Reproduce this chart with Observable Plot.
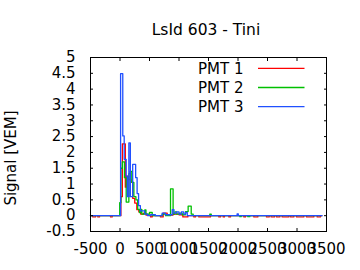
<!DOCTYPE html>
<html><head><meta charset="utf-8">
<script src="https://cdn.jsdelivr.net/npm/d3@7"></script>
<script src="https://cdn.jsdelivr.net/npm/@observablehq/plot@0.6"></script>
<style>body{margin:0;background:#fff} svg{display:block}</style>
</head><body><div id="chart"></div>
<script>
const title = "LsId 603 - Tini";
const yLabel = "Signal [VEM]";
const seriesNames = ["PMT 1", "PMT 2", "PMT 3"];
const seriesColors = ["#ff0000", "#00c000", "#2050ff"];
const xTicks = [-500, 0, 500, 1000, 1500, 2000, 2500, 3000, 3500];
const yTicks = [-0.5, 0, 0.5, 1, 1.5, 2, 2.5, 3, 3.5, 4, 4.5, 5];

// step change points (time in ns, signal in VEM)
const pmt1T = [-500,-461,-415,-376,-347,-161,-132,15,40,90,110,150,185,215,250,285,320,350,400,440,517,546,686,732,800,900,1000,1065,1150,1251,1280,1336,1534,1675,1704,1749,1771,1845,1873,2099,2127,2268,2336,2483,2529,2562,2619,2653,2709,2749,2862,2890,2946,2992,3115,3161,3285,3342,3398,3420];
const pmt1V = [0,-0.04,0,-0.04,0,-0.04,0,0.6,2.27,0.9,1.25,1.14,1.06,0.55,0.4,0.19,0.12,0.05,0.08,0.02,-0.04,0,-0.04,0.08,0.02,0.05,0.03,-0.04,0,-0.04,0,-0.04,0,-0.04,0,-0.04,0,-0.04,0,-0.04,0,-0.04,0,-0.04,0,-0.04,0,-0.04,0,-0.04,0,-0.04,0,-0.04,0,-0.04,0,-0.04,0,0];

const pmt2T = [-500,-5,15,40,75,105,150,170,200,235,270,300,330,350,370,420,440,500,546,715,771,856,900,930,960,1009,1054,1110,1155,1207,1240,1522,1546,2031,2054,2166,2200,3410];
const pmt2V = [0,0.41,1.5,1.7,1.2,0.43,1.33,1.4,1.05,0.6,0.5,0.2,0.1,0.2,0.05,0.18,0.05,0.1,0,0.05,0,0.85,0.05,0.12,0.05,0.08,0.03,0.13,0.3,0.05,0,0.05,0,-0.03,0,-0.03,0,0];

const pmt3T = [-500,10,47,71,105,125,150,175,215,265,290,315,345,420,470,520,600,715,770,885,915,960,1000,1040,1080,1110,1140,1985,2005,3425];
const pmt3V = [0,4.49,2.52,1.78,1.25,0.6,2.3,0.6,1.62,1.2,0.7,0.32,0.15,0.05,0,0.03,0,0.08,0.03,0.19,0.08,0.12,0.05,0.12,0.05,0.1,0,0.06,0,0];

const rows = [];
[[pmt1T, pmt1V], [pmt2T, pmt2V], [pmt3T, pmt3V]].forEach(([T, V], i) =>
  T.forEach((t, j) => rows.push({pmt: seriesNames[i], t, v: V[j]})));

const font = "DejaVu Sans, sans-serif";
const chart = Plot.plot({
  width: 360, height: 270,
  marginTop: 57, marginLeft: 90, marginRight: 34, marginBottom: 39,
  style: {fontFamily: font, fontSize: "15px", background: "#fff", color: "#000"},
  x: {domain: [-500, 3500]},
  y: {domain: [-0.5, 5]},
  color: {domain: seriesNames, range: seriesColors},
  marks: [
    Plot.line(rows, {x: "t", y: "v", z: "pmt", stroke: "pmt", curve: "step-after", strokeWidth: 1.3}),
    Plot.frame({stroke: "#000", strokeWidth: 1}),
    Plot.axisX({ticks: xTicks, tickFormat: d => String(d), tickSize: -3, tickPadding: 14.5, label: null}),
    Plot.axisX({anchor: "top", ticks: xTicks, tickFormat: () => "", tickSize: -3, label: null}),
    Plot.axisY({ticks: yTicks, tickFormat: d => String(d), tickSize: -3, tickPadding: 18, label: null}),
    Plot.axisY({anchor: "right", ticks: yTicks, tickFormat: () => "", tickSize: -3, label: null})
  ]
});

const svg = d3.select(chart);
svg.append("text").attr("x", 206).attr("y", 35).attr("text-anchor", "middle")
  .attr("font-family", font).attr("font-size", 15.5).attr("fill", "#000").text(title);
svg.append("text").attr("transform", "translate(15.5,158) rotate(-90)").attr("text-anchor", "middle")
  .attr("font-family", font).attr("font-size", 15).attr("fill", "#000").text(yLabel);
seriesNames.forEach((n, i) => {
  const yy = 68.3 + 19.2 * i;
  svg.append("text").attr("x", 243.5).attr("y", yy).attr("dy", "0.35em").attr("text-anchor", "end")
    .attr("font-family", font).attr("font-size", 15).attr("fill", "#000").text(n);
  svg.append("line").attr("x1", 258).attr("x2", 304.5).attr("y1", yy).attr("y2", yy)
    .attr("stroke", seriesColors[i]).attr("stroke-width", 1.3);
});
document.getElementById("chart").appendChild(chart);
</script>
</body></html>
